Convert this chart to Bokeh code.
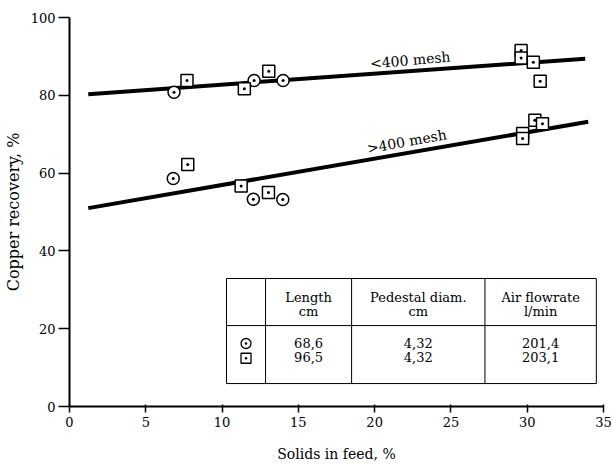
from bokeh.plotting import figure
from bokeh.models import Range1d, FixedTicker
from bokeh.core.properties import value
from bokeh.embed import file_html
from bokeh.resources import INLINE

# ---- data ----
# series 1: circles (length 68.6 cm)
circ_upper_x = [6.85, 12.1, 14.0]
circ_upper_y = [80.8, 83.8, 83.8]
circ_lower_x = [6.8, 12.05, 13.98]
circ_lower_y = [58.6, 53.3, 53.2]
# series 2: squares (length 96.5 cm)
sq_upper_x = [7.7, 11.46, 13.06, 29.6, 29.6, 30.4, 30.85]
sq_upper_y = [83.8, 81.7, 86.2, 91.5, 89.6, 88.5, 83.6]
sq_lower_x = [7.75, 11.25, 13.04, 29.7, 29.7, 30.5, 31.0]
sq_lower_y = [62.2, 56.7, 55.0, 70.2, 68.9, 73.6, 72.7]
# fitted lines
fit_upper_x = [1.23, 33.8]
fit_upper_y = [80.3, 89.4]
fit_lower_x = [1.23, 34.0]
fit_lower_y = [51.0, 73.2]
line_labels = ["<400 mesh", ">400 mesh"]

x_ticks = [0, 5, 10, 15, 20, 25, 30, 35]
y_ticks = [0, 20, 40, 60, 80, 100]

table_headers = [["Length", "cm"], ["Pedestal diam.", "cm"], ["Air flowrate", "l/min"]]
table_rows = [["68,6", "4,32", "201,4"], ["96,5", "4,32", "203,1"]]
table_markers = ["circle_dot", "square_dot"]

FONT = "DejaVu Serif"

p = figure(width=612, height=464, output_backend="svg", toolbar_location=None,
           x_range=Range1d(0, 35), y_range=Range1d(0, 100),
           min_border_left=69, min_border_right=9, min_border_top=17, min_border_bottom=58)
p.outline_line_color = None
p.xgrid.visible = False
p.ygrid.visible = False
p.background_fill_color = "white"
p.border_fill_color = "white"

p.xaxis.ticker = FixedTicker(ticks=x_ticks)
p.yaxis.ticker = FixedTicker(ticks=y_ticks)
for ax in (p.xaxis, p.yaxis):
    ax.axis_line_width = 2
    ax.axis_line_color = "black"
    ax.major_tick_line_width = 1.5
    ax.major_tick_line_color = "black"
    ax.minor_tick_line_color = None
    ax.major_label_text_font = FONT
    ax.major_label_text_font_size = "13px"
    ax.major_label_text_color = "black"
    ax.axis_label_text_font = FONT
    ax.axis_label_text_font_style = "normal"
    ax.axis_label_text_color = "black"

p.xaxis.major_tick_in = 2
p.xaxis.major_tick_out = 6
p.xaxis.major_label_standoff = 4
p.xaxis.axis_label = "Solids in feed, %"
p.xaxis.axis_label_text_font_size = "14px"
p.xaxis.axis_label_standoff = 16

p.yaxis.major_tick_in = 0
p.yaxis.major_tick_out = 11
p.yaxis.major_label_standoff = 3
p.yaxis.axis_label = "Copper recovery, %"
p.yaxis.axis_label_text_font_size = "16px"
p.yaxis.axis_label_standoff = 5

# fitted lines
p.line(fit_upper_x, fit_upper_y, line_width=4, line_color="black")
p.line(fit_lower_x, fit_lower_y, line_width=4, line_color="black")

# line labels
p.text(x=[19.7], y=[88.2], text=[line_labels[0]], angle=0.085,
       text_font=value(FONT), text_font_size="14px", text_color="black",
       text_align="left", text_baseline="alphabetic")
p.text(x=[19.5], y=[66.3], text=[line_labels[1]], angle=0.18,
       text_font=value(FONT), text_font_size="14px", text_color="black",
       text_align="left", text_baseline="alphabetic")

# points
msize = 12
p.scatter(circ_upper_x + circ_lower_x, circ_upper_y + circ_lower_y, marker="circle_dot",
          size=msize, fill_color="white", line_color="black", line_width=1.5)
p.scatter(sq_upper_x + sq_lower_x, sq_upper_y + sq_lower_y, marker="square_dot",
          size=msize, fill_color="white", line_color="black", line_width=1.5)

# ---- table (layout in data units) ----
tx = [10.29, 12.85, 18.49, 27.23, 34.53]
ty_top, ty_mid, ty_bot = 32.9, 20.8, 5.9
p.quad(left=tx[0], right=tx[-1], bottom=ty_bot, top=ty_top,
       fill_color="white", line_color="black", line_width=1)
p.segment(x0=tx[1:-1], y0=[ty_bot] * 3, x1=tx[1:-1], y1=[ty_top] * 3,
          line_color="black", line_width=1)
p.segment(x0=[tx[0]], y0=[ty_mid], x1=[tx[-1]], y1=[ty_mid],
          line_color="black", line_width=1)

col_c = [(tx[i] + tx[i + 1]) / 2 for i in range(1, 4)]
hx, hy, ht = [], [], []
for c, (a, b) in zip(col_c, table_headers):
    hx += [c, c]
    hy += [28.0, 24.4]
    ht += [a, b]
p.text(x=hx, y=hy, text=ht, text_font=value(FONT), text_font_size="13px",
       text_color="black", text_align="center", text_baseline="middle")

rx, ry, rt = [], [], []
for r, yy in zip(table_rows, [16.2, 12.6]):
    for c, t in zip(col_c, r):
        rx.append(c)
        ry.append(yy)
        rt.append(t)
p.text(x=rx, y=ry, text=rt, text_font=value(FONT), text_font_size="13px",
       text_color="black", text_align="center", text_baseline="middle")

mx = (tx[0] + tx[1]) / 2
for mk, yy in zip(table_markers, [16.2, 12.4]):
    p.scatter([mx], [yy], marker=mk, size=10, fill_color="white",
              line_color="black", line_width=1.3)

open("out.html", "w").write(file_html(p, INLINE))
